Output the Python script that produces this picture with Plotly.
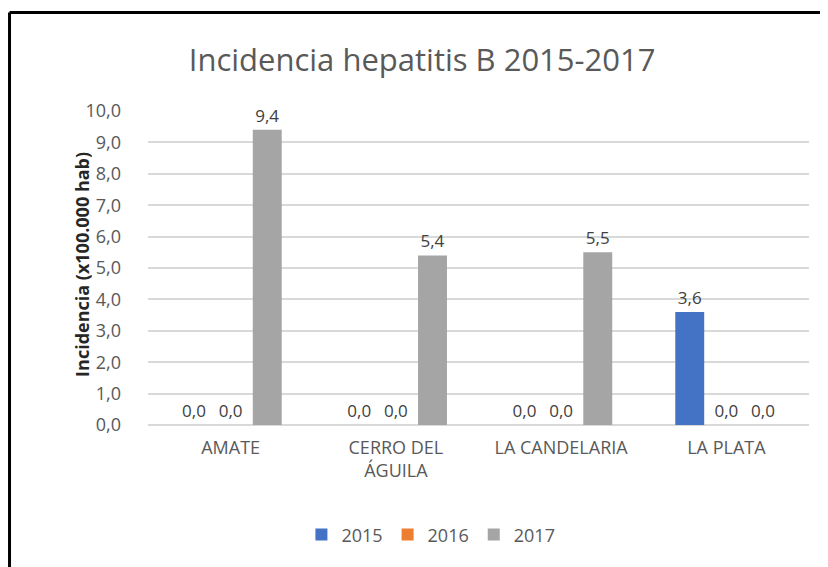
import plotly.graph_objects as go

categories = ["AMATE", "CERRO DEL<br>ÁGUILA", "LA CANDELARIA", "LA PLATA"]
years = ["2015", "2016", "2017"]
values_2015 = [0.0, 0.0, 0.0, 3.6]
values_2016 = [0.0, 0.0, 0.0, 0.0]
values_2017 = [9.4, 5.4, 5.5, 0.0]
colors = ["#4472C4", "#ED7D31", "#A5A5A5"]

FONT = "Open Sans, Lato, sans-serif"

fig = go.Figure()
for year, vals, color in zip(years, [values_2015, values_2016, values_2017], colors):
    fig.add_trace(
        go.Bar(
            x=categories,
            y=vals,
            name=year,
            marker=dict(color=color, line=dict(width=0)),
            texttemplate="%{y:.1f}",
            textposition="outside",
            textangle=0,
            textfont=dict(size=17, color="#404040", family=FONT),
            cliponaxis=False,
        )
    )

# outer frame of the chart
fig.add_shape(type="line", xref="paper", yref="paper",
              x0=-0.2095, x1=1.2, y0=1.3137, y1=1.3137,
              line=dict(color="black", width=3))
fig.add_shape(type="line", xref="paper", yref="paper",
              x0=-0.2095, x1=-0.2095, y0=-0.6, y1=1.3137,
              line=dict(color="black", width=3))

fig.add_annotation(
    text="<b>Incidencia (x100.000 hab)</b>",
    xref="paper", yref="paper", x=-0.121, y=0.51,
    textangle=-90, showarrow=False,
    font=dict(size=18, color="#262626", family=FONT),
)

# the page adds an 8px body margin, so the figure is sized to fill the rest
fig.update_layout(
    width=820,
    height=559,
    paper_bgcolor="white",
    plot_bgcolor="white",
    separators=",.",
    font=dict(family=FONT, color="#595959", size=17),
    title=dict(
        text="Incidencia hepatitis B 2015-2017",
        x=0.505, xanchor="center",
        y=0.907, yanchor="middle", yref="container",
        font=dict(size=31, color="#595959", family=FONT),
    ),
    margin=dict(l=140, r=19, t=103, b=142),
    bargap=0.335,
    bargroupgap=0.21,
    showlegend=True,
    legend=dict(
        orientation="h",
        x=0.428, xanchor="center",
        y=-0.35, yanchor="middle",
        font=dict(size=18, color="#595959", family=FONT),
        itemwidth=30,
    ),
    xaxis=dict(
        showgrid=False,
        showline=False,
        ticks="",
        ticklabelstandoff=10,
        tickfont=dict(size=18, color="#595959", family=FONT),
    ),
    yaxis=dict(
        range=[0, 10],
        dtick=1,
        tickformat=".1f",
        showgrid=True,
        gridcolor="#D9D9D9",
        gridwidth=2,
        zeroline=True,
        zerolinecolor="#D9D9D9",
        zerolinewidth=2,
        showline=False,
        ticks="",
        ticklabelstandoff=26,
        tickfont=dict(size=18, color="#595959", family=FONT),
    ),
)

fig.write_html("out.html")
